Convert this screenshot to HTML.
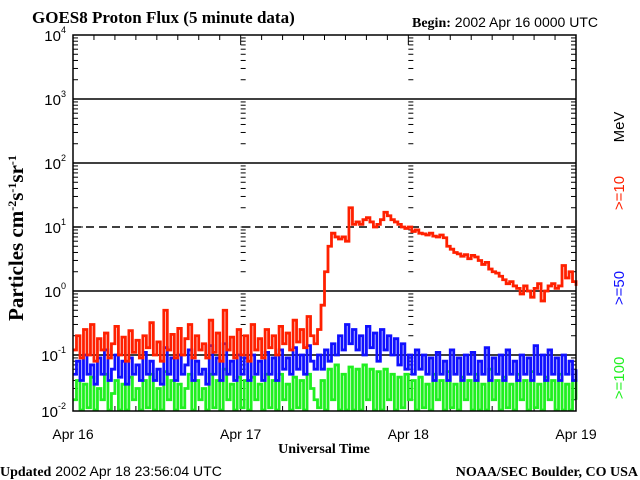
<!DOCTYPE html>
<html><head><meta charset="utf-8"><style>
body{margin:0;background:#fff;width:640px;height:480px;overflow:hidden}
svg{display:block}
</style></head><body>
<svg id="c" width="640" height="480" xmlns="http://www.w3.org/2000/svg">
<text x="32" y="23" font-family="Liberation Serif, serif" font-weight="bold" font-size="17">GOES8 Proton Flux (5 minute data)</text>
<text x="412" y="27" font-family="Liberation Sans, sans-serif" font-size="14"><tspan font-family="Liberation Serif, serif" font-weight="bold">Begin:</tspan> 2002 Apr 16 0000 UTC</text>
<text x="0" y="476" font-family="Liberation Sans, sans-serif" font-size="14"><tspan font-family="Liberation Serif, serif" font-weight="bold">Updated</tspan> 2002 Apr 18 23:56:04 UTC</text>
<text x="638" y="476" text-anchor="end" font-family="Liberation Serif, serif" font-weight="bold" font-size="14">NOAA/SEC Boulder, CO USA</text>
<text x="324" y="453" text-anchor="middle" font-family="Liberation Serif, serif" font-weight="bold" font-size="14">Universal Time</text>
<text transform="translate(23,238) rotate(-90)" text-anchor="middle" font-family="Liberation Serif, serif" font-weight="bold" font-size="21">Particles cm<tspan baseline-shift="super" font-size="12">-2</tspan>s<tspan baseline-shift="super" font-size="12">-1</tspan>sr<tspan baseline-shift="super" font-size="12">-1</tspan></text>
<text transform="translate(624,127) rotate(-90)" text-anchor="middle" font-family="Liberation Sans, sans-serif" font-size="15" fill="#000">MeV</text>
<text transform="translate(624,193) rotate(-90)" text-anchor="middle" font-family="Liberation Sans, sans-serif" font-size="15" fill="#ff2000">&gt;=10</text>
<text transform="translate(624,288) rotate(-90)" text-anchor="middle" font-family="Liberation Sans, sans-serif" font-size="15" fill="#1010ff">&gt;=50</text>
<text transform="translate(624,378) rotate(-90)" text-anchor="middle" font-family="Liberation Sans, sans-serif" font-size="15" fill="#20f020">&gt;=100</text>
</svg>
<script>
const xLabels=["Apr 16","Apr 17","Apr 18","Apr 19"];
const yDecades=[-2,-1,0,1,2,3,4];
const red=[0.12,0.2,0.09,0.25,0.1,0.3,0.08,0.18,0.12,0.22,0.09,0.15,0.28,0.1,0.19,0.08,0.24,0.11,0.17,0.09,0.2,0.13,0.32,0.1,0.16,0.08,0.5,0.12,0.21,0.09,0.26,0.1,0.18,0.3,0.09,0.2,0.12,0.15,0.09,0.35,0.11,0.22,0.08,0.5,0.12,0.19,0.09,0.25,
0.1,0.2,0.08,0.3,0.12,0.18,0.09,0.25,0.13,0.2,0.1,0.28,0.15,0.22,0.12,0.35,0.16,0.25,0.13,0.4,0.2,0.15,
0.25,0.6,2,5,8,7,6.5,7,6,20,11,12,11,13,14,12,10,11,13,17,15,13,12,11,10,9.5,
10,8.5,9,8,7.8,7.5,8,7.2,7,7.5,6.8,5,4.5,4,3.8,3.5,3.7,3.2,3.6,3.4,3,2.6,2.8,2.2,2,1.9,1.7,1.5,1.3,1.4,1.2,1.1,0.9,1.2,1,0.8,1.1,1.3,0.7,1,1.2,1.3,1.1,1.2,2.5,1.6,2,1.4,1.2];
const blue=[0.05,0.08,0.04,0.1,0.05,0.07,0.035,0.09,0.05,0.12,0.04,0.06,0.1,0.045,0.08,0.035,0.09,0.05,0.07,0.04,0.11,0.05,0.08,0.04,0.06,0.035,0.13,0.05,0.09,0.04,0.1,0.05,0.07,0.12,0.04,0.08,0.05,0.06,0.035,0.14,0.05,0.09,0.04,0.15,0.05,0.08,0.04,0.1,
0.05,0.09,0.04,0.1,0.05,0.08,0.04,0.11,0.05,0.09,0.04,0.12,0.06,0.09,0.05,0.13,0.06,0.1,0.05,0.14,0.08,0.06,
0.1,0.06,0.12,0.08,0.15,0.1,0.2,0.12,0.3,0.15,0.25,0.12,0.2,0.1,0.28,0.13,0.22,0.08,0.25,0.12,0.2,0.1,0.18,0.07,0.15,0.06,
0.1,0.05,0.12,0.06,0.1,0.05,0.09,0.04,0.11,0.05,0.08,0.04,0.12,0.05,0.09,0.04,0.1,0.05,0.11,0.04,0.08,0.05,0.13,0.04,0.09,0.05,0.1,0.04,0.12,0.05,0.08,0.04,0.1,0.05,0.09,0.04,0.14,0.05,0.1,0.04,0.12,0.05,0.09,0.04,0.1,0.05,0.08,0.04,0.06];
const green=[0.02,0.04,0.012,0.035,0.015,0.045,0.012,0.03,0.02,0.05,0.012,0.025,0.04,0.013,0.035,0.012,0.045,0.02,0.03,0.012,0.04,0.015,0.05,0.012,0.03,0.013,0.055,0.02,0.04,0.012,0.035,0.015,0.03,0.05,0.012,0.04,0.02,0.03,0.012,0.05,0.015,0.04,0.012,0.06,0.02,0.035,0.012,0.045,
0.015,0.04,0.012,0.045,0.02,0.035,0.012,0.05,0.015,0.04,0.012,0.05,0.02,0.035,0.013,0.045,0.015,0.04,0.012,0.05,0.03,0.02,
0.015,0.04,0.012,0.06,0.02,0.07,0.012,0.05,0.012,0.065,0.013,0.06,0.012,0.07,0.02,0.06,0.012,0.055,0.012,0.06,0.02,0.05,0.012,0.045,0.015,0.05,
0.02,0.04,0.012,0.045,0.015,0.035,0.012,0.05,0.02,0.04,0.012,0.055,0.015,0.035,0.012,0.045,0.02,0.04,0.012,0.05,0.013,0.035,0.012,0.06,0.02,0.04,0.012,0.045,0.015,0.035,0.012,0.05,0.02,0.04,0.012,0.055,0.015,0.035,0.012,0.045,0.02,0.04,0.012,0.05,0.013,0.035,0.012,0.04,0.02];

const NS="http://www.w3.org/2000/svg";
const svg=document.getElementById('c');
const L=73,R=576,T=35,B=411,DEC=64,DAYS=3;
function xDay(d){return L+d/DAYS*(R-L);}
function yLog(v){let y=T+(4-Math.log10(v))*DEC;return Math.min(B-1,Math.max(T,y));}
function mk(tag,attrs){const e=document.createElementNS(NS,tag);for(const k in attrs)e.setAttribute(k,attrs[k]);svg.appendChild(e);return e;}

yDecades.forEach(d=>{
  if(d===4||d===-2)return;
  const y=T+(4-d)*DEC;
  const g=mk('line',{x1:L,x2:R,y1:y,y2:y,stroke:'#000','stroke-width':1.5});
  if(d===1)g.setAttribute('stroke-dasharray','8,5');
  
  
});
[L,xDay(1),xDay(2),R].forEach((x,i)=>{
  for(let d=-2;d<4;d++){
    for(let m=1;m<10;m++){
      const v=m*Math.pow(10,d);const y=T+(4-Math.log10(v))*DEC;
      if(y>B)continue;
      const len=m===1?10:5;
      if(i===0){const t=mk('line',{x1:L,x2:L+len,y1:y,y2:y,stroke:'#000','stroke-width':1});}
      else if(i===3){const t=mk('line',{x1:R-len,x2:R,y1:y,y2:y,stroke:'#000','stroke-width':1});}
      else{const t=mk('line',{x1:x,x2:x+len,y1:y,y2:y,stroke:'#000','stroke-width':1});}
    }
  }
});
for(let k=0;k<=24;k++){
  const x=xDay(k/8);const len=k%8===0?10:5;
  const a=mk('line',{x1:x,x2:x,y1:B,y2:B-len,stroke:'#000','stroke-width':1});
  
  const b=mk('line',{x1:x,x2:x,y1:T,y2:T+len,stroke:'#000','stroke-width':1});
  
}
function series(arr,color,name){
  const step=(R-L)/(arr.length-1);
  let d='';
  arr.forEach((v,i)=>{const x=L+i*step,y=yLog(v);
    if(i===0)d+='M'+x+','+y;else d+='H'+x+'V'+y;});
  const p=mk('path',{d:d,fill:'none',stroke:color,'stroke-width':2.8});
  
  
}
series(green,'#20f020','series-100mev');
series(blue,'#1010ff','series-50mev');
series(red,'#ff2000','series-10mev');
const f=mk('rect',{x:L,y:T,width:R-L,height:B-T,fill:'none',stroke:'#000','stroke-width':1.5});


yDecades.forEach(d=>{
  const y=d===-2?B:T+(4-d)*DEC;
  const t=mk('text',{x:66,y:y+6,'text-anchor':'end','font-family':'Liberation Sans, sans-serif','font-size':15});
  t.innerHTML='10<tspan font-size="9" dy="-8">'+d+'</tspan>';
  
  
});
xLabels.forEach((s,i)=>{
  const t=mk('text',{x:xDay(i),y:439,'text-anchor':'middle','font-family':'Liberation Sans, sans-serif','font-size':14});
  t.textContent=s;
  
  
});
</script>
</body></html>
